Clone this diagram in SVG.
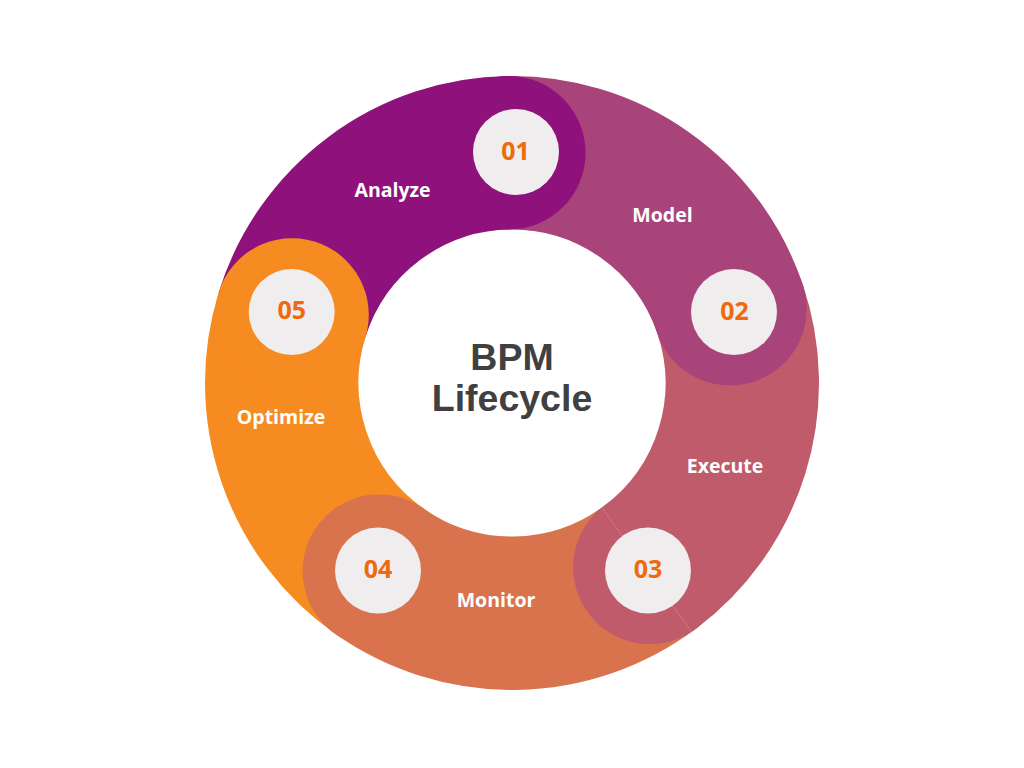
<svg xmlns="http://www.w3.org/2000/svg" width="1024" height="768" viewBox="0 0 1024 768">
  <style>
    .seg { fill: none; stroke-width: 153.5; stroke-linecap: butt; }
    .badge { fill: #EFEDEE; }
    .num { font-family: "Open Sans", "Noto Sans", sans-serif; font-weight: 700; font-size: 25px; fill: #EE6A0C; text-anchor: middle; }
    .lbl { font-family: "Open Sans", "Noto Sans", sans-serif; font-weight: 700; font-size: 19.5px; fill: #FFFFFF; text-anchor: middle; }
    .title { font-family: "Liberation Sans", Arial, sans-serif; font-weight: 700; font-size: 37.5px; fill: #404040; text-anchor: middle; }
  </style>
  <rect width="1024" height="768" fill="#FFFFFF"/>
  <g id="ring-bodies">
    <path class="seg" stroke="#8E117C" d="M292.05 314.91 A230.25 230.25 0 0 1 508.79 152.77"/>
    <path class="seg" stroke="#A8447A" d="M508.79 152.77 A230.25 230.25 0 0 1 729.97 308.80"/>
    <path class="seg" stroke="#C05B6B" d="M729.97 308.80 A230.25 230.25 0 0 1 649.92 567.37"/>
    <path class="seg" stroke="#D9734E" d="M649.92 567.37 A230.25 230.25 0 0 1 379.28 571.15"/>
    <path class="seg" stroke="#F68B21" d="M379.28 571.15 A230.25 230.25 0 0 1 292.05 314.91"/>
  </g>
  <g id="node-analyze">
    <circle cx="508.79" cy="152.77" r="76.75" fill="#8E117C"/>
    <circle class="badge" cx="516" cy="152" r="43"/>
    <text class="num" x="515.5" y="160">01</text>
    <text class="lbl" x="392.5" y="197">Analyze</text>
  </g>
  <g id="node-model">
    <circle cx="729.97" cy="308.80" r="76.75" fill="#A8447A"/>
    <circle class="badge" cx="734" cy="312" r="43"/>
    <text class="num" x="734.5" y="319.5">02</text>
    <text class="lbl" x="662.5" y="221.5">Model</text>
  </g>
  <g id="node-execute">
    <circle cx="649.92" cy="567.37" r="76.75" fill="#C05B6B"/>
    <line x1="601.8" y1="507.5" x2="691.6" y2="632.0" stroke="#D98A8C" stroke-width="0.8" stroke-opacity="0.7"/>
    <circle class="badge" cx="648" cy="570.5" r="43"/>
    <text class="num" x="648" y="578">03</text>
    <text class="lbl" x="725" y="472.5">Execute</text>
  </g>
  <g id="node-monitor">
    <circle cx="379.28" cy="571.15" r="76.75" fill="#D9734E"/>
    <circle class="badge" cx="378" cy="570.5" r="43"/>
    <text class="num" x="378" y="578">04</text>
    <text class="lbl" x="496" y="606.5">Monitor</text>
  </g>
  <g id="node-optimize">
    <circle cx="292.05" cy="314.91" r="76.75" fill="#F68B21"/>
    <circle class="badge" cx="291.7" cy="312" r="43"/>
    <text class="num" x="291.7" y="318.5">05</text>
    <text class="lbl" x="281" y="423.5">Optimize</text>
  </g>
  <g id="center">
    <text class="title" x="512" y="370">BPM</text>
    <text class="title" x="512" y="411">Lifecycle</text>
  </g>
</svg>
